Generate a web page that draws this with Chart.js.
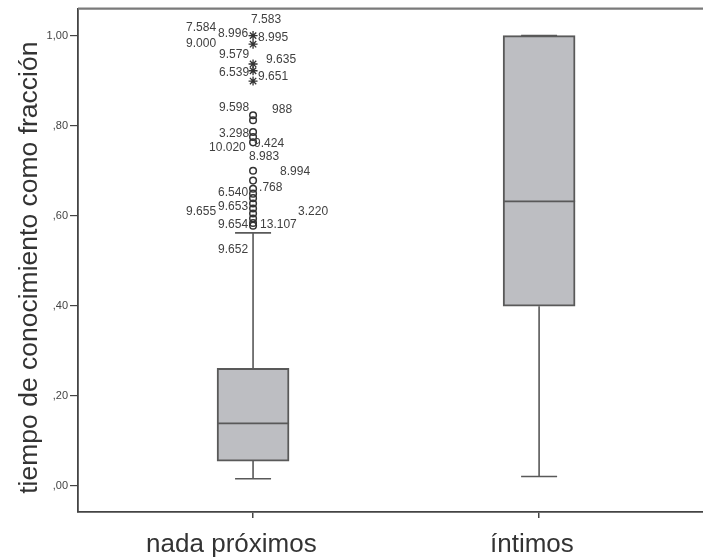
<!DOCTYPE html>
<html>
<head>
<meta charset="utf-8">
<script src="https://cdn.jsdelivr.net/npm/chart.js@4.4.1/dist/chart.umd.min.js"></script>
<style>
  html, body { margin: 0; padding: 0; background: #fff; overflow: hidden; }
</style>
</head>
<body>
<canvas id="boxChart" width="703" height="559"></canvas>
<script>
// group names and box summary values
const categories = ['nada próximos', 'íntimos'];
const whiskerLow = [0.016, 0.021];
const q1 = [0.055, 0.399];
const medians = [0.139, 0.632];
const q3 = [0.261, 1.0];
const whiskerHigh = [0.562, 1.0];
const yTicks = [0, 0.2, 0.4, 0.6, 0.8, 1.0];

// outliers of "nada próximos"
const outliers = [0.823, 0.812, 0.786, 0.775, 0.763, 0.70, 0.678, 0.66, 0.649, 0.639, 0.627, 0.616, 0.605, 0.594, 0.584, 0.578];
const extremes = [1.0, 0.981, 0.937, 0.922, 0.899];

// case numbers printed next to the outliers
const caseLabels = ['7.584', '7.583', '8.996', '8.995', '9.000', '9.579', '9.635', '6.539', '9.651', '9.598', '988', '3.298', '9.424', '10.020', '8.983', '8.994', '6.540', '.768', '9.655', '9.653', '3.220', '9.654', '13.107', '9.652'];
const caseValues = [1.018, 1.035, 1.004, 0.996, 0.982, 0.958, 0.947, 0.918, 0.909, 0.841, 0.836, 0.783, 0.761, 0.752, 0.732, 0.698, 0.652, 0.663, 0.608, 0.619, 0.608, 0.581, 0.579, 0.525];
const caseDx = [-67, -2, -35, 5, -67, -34, 13, -34, 5, -34, 19, -34, 1, -44, -4, 27, -35, 6, -67, -35, 45, -35, 7, -35];

const fmt = v => v.toFixed(2).replace('.', ',').replace(/^0/, '');
const boxLine = '#595959';
const fontFam = '"Liberation Sans", Arial, sans-serif';
// SPSS sets the category names a little left of the tick
const labelPad = ['      ', '  '];

const boxExtras = {
  id: 'boxExtras',
  beforeDatasetsDraw(chart) {
    const {ctx, scales: {x, y}} = chart;
    ctx.save();
    ctx.strokeStyle = boxLine;
    ctx.lineWidth = 1.6;
    categories.forEach((c, i) => {
      const cx = x.getPixelForValue(i + 1);
      const half = 18;
      ctx.beginPath();
      ctx.moveTo(cx, y.getPixelForValue(q3[i]));
      ctx.lineTo(cx, y.getPixelForValue(whiskerHigh[i]));
      ctx.moveTo(cx, y.getPixelForValue(q1[i]));
      ctx.lineTo(cx, y.getPixelForValue(whiskerLow[i]));
      ctx.moveTo(cx - half, y.getPixelForValue(whiskerHigh[i]));
      ctx.lineTo(cx + half, y.getPixelForValue(whiskerHigh[i]));
      ctx.moveTo(cx - half, y.getPixelForValue(whiskerLow[i]));
      ctx.lineTo(cx + half, y.getPixelForValue(whiskerLow[i]));
      ctx.stroke();
    });
    ctx.restore();
  },
  afterDatasetsDraw(chart) {
    const {ctx, chartArea, scales: {x, y}} = chart;
    ctx.save();
    ctx.strokeStyle = boxLine;
    ctx.lineWidth = 1.8;
    categories.forEach((c, i) => {
      const cx = x.getPixelForValue(i + 1);
      const my = y.getPixelForValue(medians[i]);
      ctx.beginPath();
      ctx.moveTo(cx - 36, my);
      ctx.lineTo(cx + 36, my);
      ctx.stroke();
    });
    // top frame line
    ctx.strokeStyle = '#7a7a7a';
    ctx.lineWidth = 2.4;
    ctx.beginPath();
    ctx.moveTo(chartArea.left, chartArea.top);
    ctx.lineTo(chartArea.right, chartArea.top);
    ctx.stroke();
    // case labels
    ctx.fillStyle = '#404040';
    ctx.font = '12px ' + fontFam;
    ctx.textAlign = 'left';
    ctx.textBaseline = 'middle';
    const cx0 = x.getPixelForValue(1);
    caseLabels.forEach((t, i) => {
      ctx.fillText(t, cx0 + caseDx[i], y.getPixelForValue(caseValues[i]));
    });
    ctx.restore();
  }
};

new Chart(document.getElementById('boxChart'), {
  type: 'bar',
  data: {
    datasets: [{
      label: 'caja',
      data: categories.map((c, i) => ({x: i + 1, y: [q1[i], q3[i]]})),
      backgroundColor: '#bdbec2',
      borderColor: boxLine,
      borderWidth: 2,
      borderSkipped: false,
      barThickness: 72
    }, {
      type: 'scatter',
      label: 'atípicos',
      data: outliers.map(v => ({x: 1, y: v})),
      pointStyle: 'circle',
      pointRadius: 3.3,
      borderWidth: 1.5,
      borderColor: '#333',
      backgroundColor: 'rgba(255,255,255,0)'
    }, {
      type: 'scatter',
      label: 'extremos',
      data: extremes.map(v => ({x: 1, y: v})),
      pointStyle: 'star',
      pointRadius: 4.5,
      borderWidth: 1.3,
      borderColor: '#333'
    }]
  },
  options: {
    responsive: false,
    animation: false,
    layout: {autoPadding: false, padding: {top: 8, left: 0, right: 0, bottom: 0}},
    plugins: {legend: {display: false}, tooltip: {enabled: false}},
    scales: {
      x: {
        type: 'linear',
        offset: false,
        min: 0.388,
        max: 2.573,
        afterBuildTicks: s => { s.ticks = categories.map((c, i) => ({value: i + 1})); },
        afterFit: s => { s.height = 47; s.paddingLeft = 0; s.paddingRight = 0; },
        grid: {offset: false, drawOnChartArea: false, drawTicks: true, tickLength: 6, color: '#444', lineWidth: 1.5},
        border: {display: true, color: '#444', width: 1.8},
        ticks: {
          callback: v => categories[v - 1] + labelPad[v - 1],
          padding: 11,
          maxRotation: 0,
          color: '#333',
          font: {family: fontFam, size: 26}
        }
      },
      y: {
        min: -0.058,
        max: 1.06,
        afterBuildTicks: s => { s.ticks = yTicks.map(v => ({value: v})); },
        afterFit: s => { s.width = 78; },
        grid: {drawOnChartArea: false, drawTicks: true, tickLength: 8, color: '#444', lineWidth: 1.2},
        border: {display: true, color: '#444', width: 1.8},
        ticks: {
          callback: v => fmt(v),
          padding: 2,
          color: '#444',
          font: {family: fontFam, size: 11}
        },
        title: {
          display: true,
          text: 'tiempo de conocimiento como fracción  ',
          color: '#333',
          padding: {top: 14, bottom: 0},
          font: {family: fontFam, size: 26.5, weight: 'normal'}
        }
      }
    }
  },
  plugins: [boxExtras]
});
</script>
</body>
</html>
